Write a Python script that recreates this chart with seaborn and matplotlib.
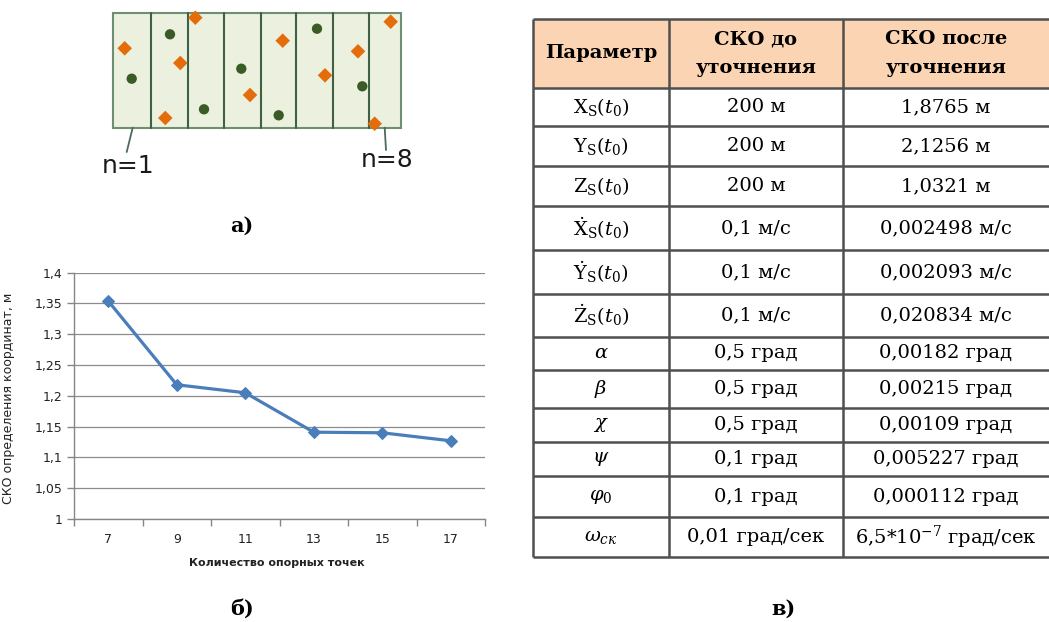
import numpy as np
import matplotlib
matplotlib.use("Agg")
import matplotlib.pyplot as plt
from matplotlib.patches import Rectangle
import seaborn as sns

sns.set_theme(style="white")
plt.rcParams["font.family"] = ["DejaVu Sans"]
plt.rcParams["mathtext.fontset"] = "dejavuserif"
plt.rcParams["text.color"] = "black"

W, H = 1049, 622

# ---------------------------------------------------------
# DATA
# ---------------------------------------------------------
# б) chart: accuracy vs number of reference points
n_points = [7, 9, 11, 13, 15, 17]
sko = [1.354, 1.218, 1.205, 1.141, 1.140, 1.127]
y_ticks = [1.0, 1.05, 1.1, 1.15, 1.2, 1.25, 1.3, 1.35, 1.4]
y_tick_labels = ["1", "1,05", "1,1", "1,15", "1,2", "1,25", "1,3", "1,35", "1,4"]
x_tick_labels = ["7", "9", "11", "13", "15", "17"]

# а) diagram: strip boundaries and point positions (picture pixels)
strip_edges = [112.7, 151, 187.7, 224.3, 261, 295.7, 332.7, 368.7, 401]
circle_x = [131.7, 170, 204, 241.3, 278.7, 317, 362.3]
circle_y = [78.7, 34.3, 109.3, 68.7, 115.3, 28.7, 86.3]
diamond_x = [124.7, 180.3, 165.3, 195.3, 250, 282.7, 325, 358, 390.7, 374.7]
diamond_y = [48.3, 63, 118, 17.7, 95, 40.7, 75.3, 51.3, 21.7, 123.7]
strip_labels = ["n=1", "n=8"]

# в) table
table_header = ["Параметр", "СКО до\nуточнения", "СКО после\nуточнения"]
params = [r"$\mathrm{X}_\mathrm{S}(t_0)$", r"$\mathrm{Y}_\mathrm{S}(t_0)$",
          r"$\mathrm{Z}_\mathrm{S}(t_0)$", r"$\dot{\mathrm{X}}_\mathrm{S}(t_0)$",
          r"$\dot{\mathrm{Y}}_\mathrm{S}(t_0)$", r"$\dot{\mathrm{Z}}_\mathrm{S}(t_0)$",
          r"$\alpha$", r"$\beta$", r"$\chi$", r"$\psi$", r"$\varphi_0$",
          r"$\omega_{\mathit{ск}}$"]
sko_before = ["200 м", "200 м", "200 м", "0,1 м/с", "0,1 м/с", "0,1 м/с",
              "0,5 град", "0,5 град", "0,5 град", "0,1 град", "0,1 град",
              "0,01 град/сек"]
sko_after = ["1,8765 м", "2,1256 м", "1,0321 м", "0,002498 м/с", "0,002093 м/с",
             "0,020834 м/с", "0,00182 град", "0,00215 град", "0,00109 град",
             "0,005227 град", "0,000112 град", r"6,5*10$^{-7}$ град/сек"]

# layout (pixels)
row_edges = [19, 88, 126, 166, 206, 250, 294, 337, 370, 408, 442, 476, 517, 557]
col_edges = [532.7, 669.3, 842.7, 1049]

fig = plt.figure(figsize=(W / 100, H / 100), dpi=100)
fig.patch.set_facecolor("white")

# background axes in pixel coordinates
bg = fig.add_axes([0, 0, 1, 1])
bg.set_facecolor("none")
bg.axis("off")

# ---------------------------------------------------------
# а) diagram
# ---------------------------------------------------------
top, bot = 13.3, 127.7
bg.add_patch(Rectangle((strip_edges[0], top), strip_edges[-1] - strip_edges[0], bot - top,
                       facecolor="#EBF1DE", edgecolor="#6F8F72", lw=1.5, zorder=1))
for xe in strip_edges[1:-1]:
    bg.plot([xe, xe], [top, bot], color="#3F6042", lw=1.5, zorder=2)
sns.scatterplot(x=circle_x, y=circle_y, ax=bg, marker="o", s=55, color="#3A5A26",
                edgecolor="none", zorder=3)
sns.scatterplot(x=diamond_x, y=diamond_y, ax=bg, marker="D", s=55, color="#E46C0A",
                edgecolor="none", zorder=3)

bg.plot([132.7, 126.7], [bot, 152], color="#4D6B5A", lw=1.3)
bg.plot([384.7, 386], [bot, 150], color="#4D6B5A", lw=1.3)
bg.text(128, 166, strip_labels[0], ha="center", va="center", fontsize=18, color="#1a1a1a")
bg.text(387, 160, strip_labels[1], ha="center", va="center", fontsize=18, color="#1a1a1a")

sub_kw = dict(ha="center", va="center", fontsize=15, fontweight="bold",
              family="DejaVu Serif", color="black")
bg.text(242, 226, "а)", **sub_kw)
bg.text(242, 609, "б)", **sub_kw)
bg.text(783, 609, "в)", **sub_kw)

# ---------------------------------------------------------
# в) table
# ---------------------------------------------------------
bg.add_patch(Rectangle((col_edges[0], row_edges[0]), col_edges[-1] - col_edges[0],
                       row_edges[1] - row_edges[0], facecolor="#FBD4B4", edgecolor="none"))
line_kw = dict(color="#505050", lw=1.8, solid_capstyle="butt")
for ye in row_edges:
    bg.plot([col_edges[0], col_edges[-1]], [ye, ye], **line_kw)
for xe in col_edges[:-1]:
    bg.plot([xe, xe], [row_edges[0], row_edges[-1]], **line_kw)

col_centers = [(col_edges[i] + col_edges[i + 1]) / 2 for i in range(3)]
cell_kw = dict(ha="center", va="center", fontsize=14, family="DejaVu Serif", color="black")
hy = (row_edges[0] + row_edges[1]) / 2
for cx, txt in zip(col_centers, table_header):
    bg.text(cx, hy, txt, fontweight="bold", linespacing=1.75, **cell_kw)
for i, cells in enumerate(zip(params, sko_before, sko_after)):
    cy = (row_edges[i + 1] + row_edges[i + 2]) / 2
    for cx, txt in zip(col_centers, cells):
        bg.text(cx, cy, txt, **cell_kw)

bg.set_xlim(0, W)
bg.set_ylim(H, 0)

# ---------------------------------------------------------
# б) line chart
# ---------------------------------------------------------
ax_l, ax_r, ax_t, ax_b = 74, 485, 272.7, 519
ax = fig.add_axes([ax_l / W, (H - ax_b) / H, (ax_r - ax_l) / W, (ax_b - ax_t) / H])
ax.set_facecolor("none")
sns.lineplot(x=n_points, y=sko, ax=ax, color="#4A7EBB", lw=2.3, marker="D",
             markersize=6.5, markeredgecolor="#4A7EBB", zorder=3)
ax.set_xlim(6, 18)
ax.set_ylim(1.0, 1.4)
ax.set_yticks(y_ticks)
ax.set_yticklabels(y_tick_labels)
ax.set_xticks(n_points)
ax.set_xticklabels(x_tick_labels)
ax.set_xticks(np.arange(6, 19, 2), minor=True)
ax.tick_params(axis="x", which="major", length=0, pad=10, labelsize=9, labelcolor="#222222")
ax.tick_params(axis="x", which="minor", length=5, width=1, color="#868686", direction="out",
               bottom=True)
ax.tick_params(axis="y", length=5, width=1, color="#868686", direction="out", left=True,
               pad=3, labelsize=9, labelcolor="#222222")
ax.grid(axis="y", color="#8c8c8c", lw=0.9)
ax.grid(axis="x", visible=False)
for s in ["top", "right"]:
    ax.spines[s].set_visible(False)
for s in ["left", "bottom"]:
    ax.spines[s].set_color("#868686")
    ax.spines[s].set_linewidth(1)
ax.set_ylabel("СКО определения координат, м", fontsize=9, color="#222222")
ax.yaxis.set_label_coords((15 - ax_l) / (ax_r - ax_l), 0.49)
ax.set_xlabel("Количество опорных точек", fontsize=8, fontweight="bold", color="#222222",
              va="center")
ax.xaxis.set_label_coords((277 - ax_l) / (ax_r - ax_l), (ax_b - 563) / (ax_b - ax_t))

plt.savefig("out.png", dpi=100)
plt.close()
